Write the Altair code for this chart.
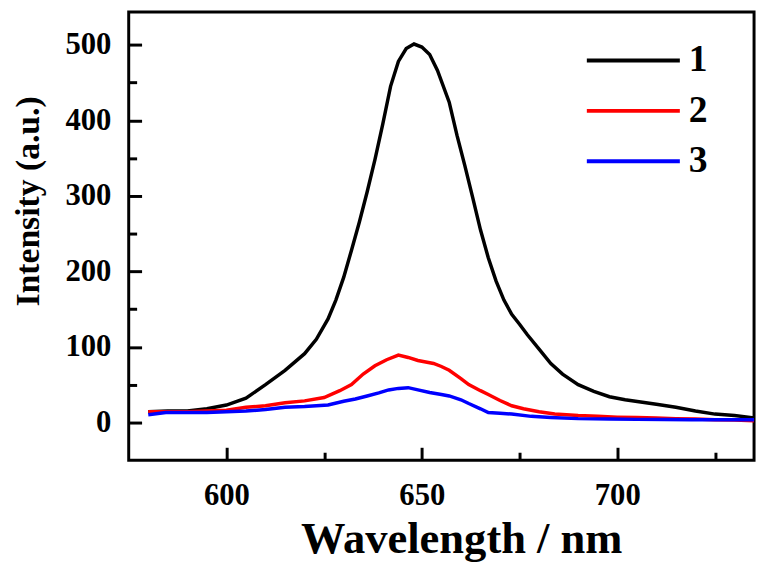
import altair as alt
import pandas as pd

# ---- data ----
wl_1 = [580, 585, 590, 595, 600, 605, 610, 615, 620, 623, 626, 628, 630, 632, 634, 636, 638, 640, 642, 644,
        646, 648, 650, 652, 654, 657, 659, 661, 663, 665, 667, 669, 671, 673, 675, 677, 680, 683, 686, 690,
        694, 698, 702, 706, 710, 715, 720, 725, 730, 735]
int_1 = [14, 15, 15, 18, 23, 32, 50, 69, 91, 110, 137, 162, 192, 228, 265, 305, 348, 395, 445, 478,
         495, 501, 497, 487, 466, 424, 380, 340, 298, 255, 218, 187, 162, 143, 130, 116, 97, 78, 64, 50,
         41, 34, 30, 27, 24, 20, 15, 11, 9, 6]

wl_2 = [580, 585, 590, 595, 600, 605, 610, 615, 620, 625, 629, 632, 635, 638, 641, 644, 646.5, 649, 651, 653,
        655, 657, 660, 662, 665, 667, 670, 673, 676, 680, 684, 690, 695, 700, 705, 710, 715, 720, 725, 730, 735]
int_2 = [14, 14, 14, 15, 16, 20, 22, 26, 28.5, 33, 42, 50, 64, 75, 83, 89, 86, 82, 80, 78,
         74, 69, 58, 50, 42, 37, 29, 22, 18, 14, 11, 9, 8, 7, 6.5, 6, 5, 4.5, 3.5, 3, 2]

wl_3 = [580, 584.5, 590, 595, 600, 605, 610, 615, 620, 626, 630, 633, 636, 639, 641.5, 644, 646.5, 649, 652, 655,
        657, 660, 662, 665, 667, 670, 673, 678, 683, 690, 698, 705, 712, 719, 726, 735]
int_3 = [10, 13, 13, 13, 14, 15, 17, 20, 21, 23, 28, 31, 35, 39, 43, 45, 46, 43, 39.5, 37,
         35, 30, 25, 18, 13, 12, 11, 8, 6.6, 5, 4.4, 4, 3.8, 3.5, 3.5, 3.5]

series_names = ["1", "2", "3"]
series_colors = ["#000000", "#ff0000", "#0000ff"]

x_major = [600, 650, 700]
x_minor = [625, 675, 725]
y_major = [0, 100, 200, 300, 400, 500]
y_minor = [50, 150, 250, 350, 450]

rows = []
for name, wl, vals in zip(series_names, [wl_1, wl_2, wl_3], [int_1, int_2, int_3]):
    for i, (w, v) in enumerate(zip(wl, vals)):
        rows.append({"series": name, "wavelength": w, "intensity": v, "order": i})
df = pd.DataFrame(rows)

FONT = "Liberation Serif"
MAJ = 13
MIN = 8

xscale = alt.Scale(domain=[575, 735], nice=False, zero=False)
yscale = alt.Scale(domain=[-50, 543.5], nice=False, zero=False)

lines = alt.Chart(df).mark_line(strokeWidth=3.5).encode(
    x=alt.X("wavelength:Q", scale=xscale,
            axis=alt.Axis(orient="bottom", values=x_major, title="Wavelength / nm",
                          domain=False, grid=False, offset=-MAJ,
                          tickSize=MAJ, tickWidth=3, tickColor="black",
                          labelFont=FONT, labelFontSize=31, labelFontWeight="bold",
                          labelColor="black", labelPadding=21,
                          titleFont=FONT, titleFontSize=45, titleFontWeight="bold",
                          titleColor="black", titleX=336, titleY=93 + MAJ,
                          titleAlign="center", titleBaseline="alphabetic")),
    y=alt.Y("intensity:Q", scale=yscale,
            axis=alt.Axis(orient="left", values=y_major, title="Intensity (a.u.)",
                          domain=False, grid=False, offset=-MAJ,
                          tickSize=MAJ, tickWidth=3, tickColor="black",
                          labelFont=FONT, labelFontSize=31, labelFontWeight="bold",
                          labelColor="black", labelPadding=18,
                          titleFont=FONT, titleFontSize=34, titleFontWeight="bold",
                          titleColor="black", titleX=-101 - MAJ, titleY=191, titleAngle=-90,
                          titleAlign="center", titleBaseline="middle")),
    color=alt.Color("series:N",
                    scale=alt.Scale(domain=series_names, range=series_colors),
                    legend=alt.Legend(orient="none", legendX=491, legendY=30,
                                      direction="vertical", title=None,
                                      symbolType="M-4.7,0H4.7", symbolSize=400,
                                      symbolStrokeWidth=4,
                                      labelFont=FONT, labelFontSize=38, labelFontWeight="bold",
                                      labelColor="black", labelOffset=37,
                                      rowPadding=13, padding=0)),
    order="order:Q",
)

minor = alt.Chart(df).mark_point(opacity=0).encode(
    x=alt.X("wavelength:Q", scale=xscale,
            axis=alt.Axis(orient="bottom", values=x_minor, title=None, labels=False,
                          domain=False, grid=False, offset=-MIN,
                          tickSize=MIN, tickWidth=3, tickColor="black")),
    y=alt.Y("intensity:Q", scale=yscale,
            axis=alt.Axis(orient="left", values=y_minor, title=None, labels=False,
                          domain=False, grid=False, offset=-MIN,
                          tickSize=MIN, tickWidth=3, tickColor="black")),
)

chart = alt.layer(lines, minor).resolve_axis(x="independent", y="independent").properties(
    width=632, height=453,
    autosize=alt.AutoSizeParams(type="none"),
    padding={"left": 122, "top": 1, "right": 5, "bottom": 104},
    background="white",
).configure_view(stroke="black", strokeWidth=3)

chart.save("out.html", embed_options={"renderer": "svg", "actions": False})
